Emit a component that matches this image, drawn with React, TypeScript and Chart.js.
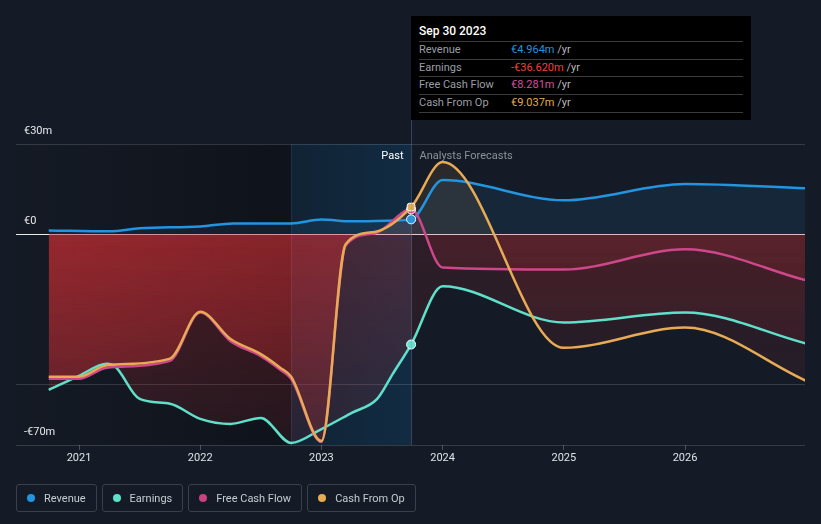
import React, { useEffect, useRef } from 'react';
import { Chart, registerables } from 'chart.js';

Chart.register(...registerables);

// ---------- data (years as decimals, values in € millions) ----------
const revenueX = [2020.75, 2021.25, 2021.5, 2022.0, 2022.27, 2022.75, 2023.0, 2023.25, 2023.6, 2023.74, 2024.0, 2025.0, 2026.0, 2027.0];
const revenueY = [1.3, 1.0, 2.0, 2.6, 3.6, 3.6, 4.9, 4.3, 4.6, 4.964, 18.0, 11.3, 16.7, 15.3];

const earningsX = [2020.75, 2021.0, 2021.23, 2021.3, 2021.5, 2021.75, 2022.0, 2022.25, 2022.5, 2022.75, 2023.0, 2023.25, 2023.46, 2023.59, 2023.74, 2024.0, 2025.0, 2026.0, 2027.0];
const earningsY = [-51.7, -47, -43, -44, -54.7, -56.3, -61.3, -63, -61, -69.3, -64.7, -59.3, -54.7, -46.3, -36.62, -17.3, -29.3, -26, -36.3];

const fcfX = [2020.75, 2021.0, 2021.23, 2021.75, 2022.0, 2022.25, 2022.5, 2022.66, 2022.75, 2023.0, 2023.2, 2023.44, 2023.74, 2024.0, 2025.0, 2026.0, 2027.0];
const fcfY = [-48, -48, -44.3, -42, -26, -35.5, -40.5, -45, -48, -69, -3.7, 0.3, 8.281, -11, -11.7, -5, -15.3];

const cfoX = [2020.75, 2021.0, 2021.23, 2021.75, 2022.0, 2022.25, 2022.5, 2022.66, 2022.75, 2023.0, 2023.2, 2023.44, 2023.74, 2024.0, 2025.0, 2026.0, 2027.0];
const cfoY = [-47.3, -47.3, -43.5, -41.3, -25.7, -34.8, -39.8, -44.3, -47.3, -68.7, -3.3, 0.8, 9.037, 24, -37.7, -31, -48.7];

const xTickYears = [2021, 2022, 2023, 2024, 2025, 2026];
const xTickLabels = ['2021', '2022', '2023', '2024', '2025', '2026'];
const yTickValues = [30, 0, -50, -70];
const yTickLabels = ['€30m', '€0', '', '-€70m'];

const xMin = 2020.48;
const xMax = 2026.99;
const yMin = -70;
const yMax = 30;
const highlightStart = 2022.75;
const pastEnd = 2023.74;

const seriesNames = ['Revenue', 'Earnings', 'Free Cash Flow', 'Cash From Op'];
const seriesColors = ['#2394df', '#5fe0cb', '#cf478b', '#e8ab55'];
const legendDotColors = ['#2394df', '#5fe0cb', '#c7437f', '#e8ab55'];

const tooltipTitle = 'Sep 30 2023';
const tooltipValues = ['€4.964m', '-€36.620m', '€8.281m', '€9.037m'];
const tooltipValueColors = ['#2394df', '#f0403e', '#d64e9e', '#e8a94f'];

const TOOLTIP_TOP = 16;
const FONT = 'Roboto, "Noto Sans", sans-serif';

const toPoints = (xs: number[], ys: number[]) => xs.map((x, i) => ({ x, y: ys[i] }));

const bgPlugin = {
  id: 'swsBackground',
  afterLayout(chart: any) {
    const a = chart.chartArea;
    const xs = chart.scales.x;
    const ys = chart.scales.y;
    const off = document.createElement('canvas');
    off.width = chart.width;
    off.height = chart.height;
    const o = off.getContext('2d') as CanvasRenderingContext2D;
    const span = a.right - a.left;
    const f = (px: number) => Math.min(1, Math.max(0, (px - a.left) / span));
    const xHl = xs.getPixelForValue(highlightStart);
    const xNow = xs.getPixelForValue(pastEnd);
    const hg = o.createLinearGradient(a.left, 0, a.right, 0);
    hg.addColorStop(0, 'rgba(205,45,50,0.34)');
    hg.addColorStop(f(xHl), 'rgba(205,45,50,0.28)');
    hg.addColorStop(f(xNow), 'rgba(205,45,50,0.28)');
    hg.addColorStop(Math.min(1, f(xNow) + 0.001), 'rgba(205,45,50,0.14)');
    hg.addColorStop(1, 'rgba(205,45,50,0.14)');
    o.fillStyle = hg;
    o.fillRect(0, 0, off.width, off.height);
    o.globalCompositeOperation = 'destination-in';
    const vg = o.createLinearGradient(0, ys.getPixelForValue(0), 0, ys.getPixelForValue(yMin));
    vg.addColorStop(0, 'rgba(0,0,0,1)');
    vg.addColorStop(1, 'rgba(0,0,0,0.38)');
    o.fillStyle = vg;
    o.fillRect(0, 0, off.width, off.height);
    const pat = chart.ctx.createPattern(off, 'no-repeat');
    chart.data.datasets.forEach((ds: any) => {
      ds.fill = { ...ds.fill, below: pat };
    });
  },
  beforeDraw(chart: any) {
    const ctx = chart.ctx as CanvasRenderingContext2D;
    const a = chart.chartArea;
    const xs = chart.scales.x;
    const xHl = xs.getPixelForValue(highlightStart);
    const xNow = xs.getPixelForValue(pastEnd);
    ctx.save();
    ctx.fillStyle = '#151b26';
    ctx.fillRect(0, 0, chart.width, chart.height);
    const dg = ctx.createLinearGradient(a.left, 0, xHl, 0);
    dg.addColorStop(0, 'rgba(0,0,0,0.04)');
    dg.addColorStop(1, 'rgba(0,0,0,0.3)');
    ctx.fillStyle = dg;
    ctx.fillRect(a.left, a.top, xHl - a.left, a.bottom - a.top);
    const bg2 = ctx.createLinearGradient(xHl, 0, xNow, 0);
    bg2.addColorStop(0, 'rgba(10,45,70,0.45)');
    bg2.addColorStop(1, 'rgba(15,60,95,0.5)');
    ctx.fillStyle = bg2;
    ctx.fillRect(xHl, a.top, xNow - xHl, a.bottom - a.top);
    ctx.restore();
  },
  afterDatasetsDraw(chart: any) {
    const ctx = chart.ctx as CanvasRenderingContext2D;
    const a = chart.chartArea;
    const xs = chart.scales.x;
    const xHl = Math.round(xs.getPixelForValue(highlightStart)) + 0.5;
    const xNow = Math.round(xs.getPixelForValue(pastEnd)) + 0.5;
    ctx.save();
    ctx.lineWidth = 1;
    ctx.strokeStyle = 'rgba(255,255,255,0.07)';
    ctx.beginPath();
    ctx.moveTo(xHl, a.top);
    ctx.lineTo(xHl, a.bottom);
    ctx.stroke();
    ctx.strokeStyle = 'rgba(110,150,190,0.35)';
    ctx.beginPath();
    ctx.moveTo(xNow, TOOLTIP_TOP);
    ctx.lineTo(xNow, a.bottom);
    ctx.stroke();
    ctx.font = '11px ' + FONT;
    ctx.textBaseline = 'middle';
    ctx.fillStyle = '#ffffff';
    ctx.textAlign = 'right';
    ctx.fillText('Past', xNow - 8, a.top + 12);
    ctx.fillStyle = '#8b9099';
    ctx.textAlign = 'left';
    ctx.fillText('Analysts Forecasts', xNow + 8, a.top + 12);
    ctx.restore();
  },
};

function makeDataset(idx: number, xs: number[], ys: number[], above: string, order: number, style: string) {
  const color = seriesColors[idx];
  return {
    label: seriesNames[idx],
    data: toPoints(xs, ys),
    borderColor: color,
    backgroundColor: color,
    borderWidth: 2.5,
    cubicInterpolationMode: 'monotone' as const,
    fill: { target: 'origin', above, below: 'rgba(205,45,50,0.2)' },
    pointRadius: (c: any) => (xs[c.dataIndex] === pastEnd ? 4.5 : 0),
    pointHoverRadius: 0,
    pointBackgroundColor: color,
    pointBorderColor: '#ffffff',
    pointBorderWidth: 1,
    pointStyle: style,
    order,
  };
}

export default function App() {
  const ref = useRef<HTMLCanvasElement | null>(null);

  useEffect(() => {
    if (!ref.current) return;
    const chart = new Chart(ref.current, {
      type: 'line',
      data: {
        datasets: [
          makeDataset(0, revenueX, revenueY, 'rgba(35,148,223,0.10)', 3, 'circle'),
          makeDataset(1, earningsX, earningsY, 'rgba(95,224,203,0.08)', 2, 'circle'),
          makeDataset(2, fcfX, fcfY, 'rgba(207,71,139,0.08)', 1, 'circle'),
          makeDataset(3, cfoX, cfoY, 'rgba(232,171,85,0.10)', 0, 'rectRounded'),
        ] as any,
      },
      options: {
        responsive: false,
        animation: false,
        events: [],
        layout: { padding: { left: 0, right: 16, top: 144, bottom: 56.8 } },
        plugins: {
          legend: { display: false },
          tooltip: { enabled: false },
          filler: { drawTime: 'beforeDatasetsDraw' },
        } as any,
        scales: {
          x: {
            type: 'linear',
            min: xMin,
            max: xMax,
            afterBuildTicks: (scale: any) => {
              scale.ticks = xTickYears.map((v) => ({ value: v }));
            },
            ticks: {
              color: '#dfe3e8',
              font: { family: FONT, size: 11 },
              padding: 2,
              maxRotation: 0,
              autoSkip: false,
              callback: (v: any) => xTickLabels[xTickYears.indexOf(Number(v))] ?? '',
            },
            grid: { drawOnChartArea: false, drawTicks: true, tickLength: 5, color: '#4a505b' },
            border: { display: false },
          },
          y: {
            type: 'linear',
            min: yMin,
            max: yMax,
            afterBuildTicks: (scale: any) => {
              scale.ticks = yTickValues.map((v) => ({ value: v }));
            },
            ticks: {
              mirror: true,
              padding: 8,
              labelOffset: -13,
              color: '#e6e8eb',
              font: { family: FONT, size: 11 },
              callback: (v: any) => yTickLabels[yTickValues.indexOf(Number(v))] ?? '',
            },
            grid: {
              drawTicks: false,
              color: (c: any) => (c.tick && c.tick.value === 0 ? 'rgba(255,255,255,0.9)' : 'rgba(255,255,255,0.14)'),
            },
            border: { display: false },
          },
        },
      } as any,
      plugins: [bgPlugin],
    });
    return () => chart.destroy();
  }, []);

  return (
    <div style={{ position: 'fixed', left: 0, top: 0, width: 821, height: 524, background: '#151b26', fontFamily: FONT, overflow: 'hidden' }}>
      <canvas ref={ref} width={821} height={524} style={{ position: 'absolute', left: 0, top: 0, width: 821, height: 524 }} />
      <div style={{ position: 'absolute', left: 411, top: TOOLTIP_TOP, width: 340, height: 104, background: '#000000' }}>
        <div style={{ position: 'absolute', left: 8, top: 8, fontSize: 12, fontWeight: 500, color: '#ffffff', lineHeight: '14px', whiteSpace: 'nowrap' }}>{tooltipTitle}</div>
        {seriesNames.map((name, i) => (
          <div
            key={name}
            style={{
              position: 'absolute',
              left: 8,
              right: 8,
              top: 25 + i * 17.5,
              height: 17.5,
              borderTop: '1px solid #3b3b3b',
              borderBottom: i === seriesNames.length - 1 ? '1px solid #3b3b3b' : 'none',
              fontSize: 11,
              lineHeight: '16px',
              whiteSpace: 'nowrap',
            }}
          >
            <span style={{ position: 'absolute', left: 0, top: 0, color: '#9a9ea6' }}>{name}</span>
            <span style={{ position: 'absolute', left: 92, top: 0 }}>
              <span style={{ color: tooltipValueColors[i] }}>{tooltipValues[i]}</span>
              <span style={{ color: '#b8b8b8' }}> /yr</span>
            </span>
          </div>
        ))}
      </div>
      <div style={{ position: 'absolute', left: 16, top: 484, display: 'flex', gap: 5 }}>
        {seriesNames.map((name, i) => (
          <div
            key={name}
            style={{
              boxSizing: 'border-box',
              height: 28,
              border: '1px solid #3a404b',
              borderRadius: 3,
              padding: '0 10px',
              display: 'flex',
              alignItems: 'center',
              fontSize: 11,
              color: '#c6cad1',
              whiteSpace: 'nowrap',
            }}
          >
            <span style={{ width: 8, height: 8, borderRadius: 4, background: legendDotColors[i], marginRight: 9, display: 'inline-block' }} />
            <span>{name}</span>
          </div>
        ))}
      </div>
    </div>
  );
}
